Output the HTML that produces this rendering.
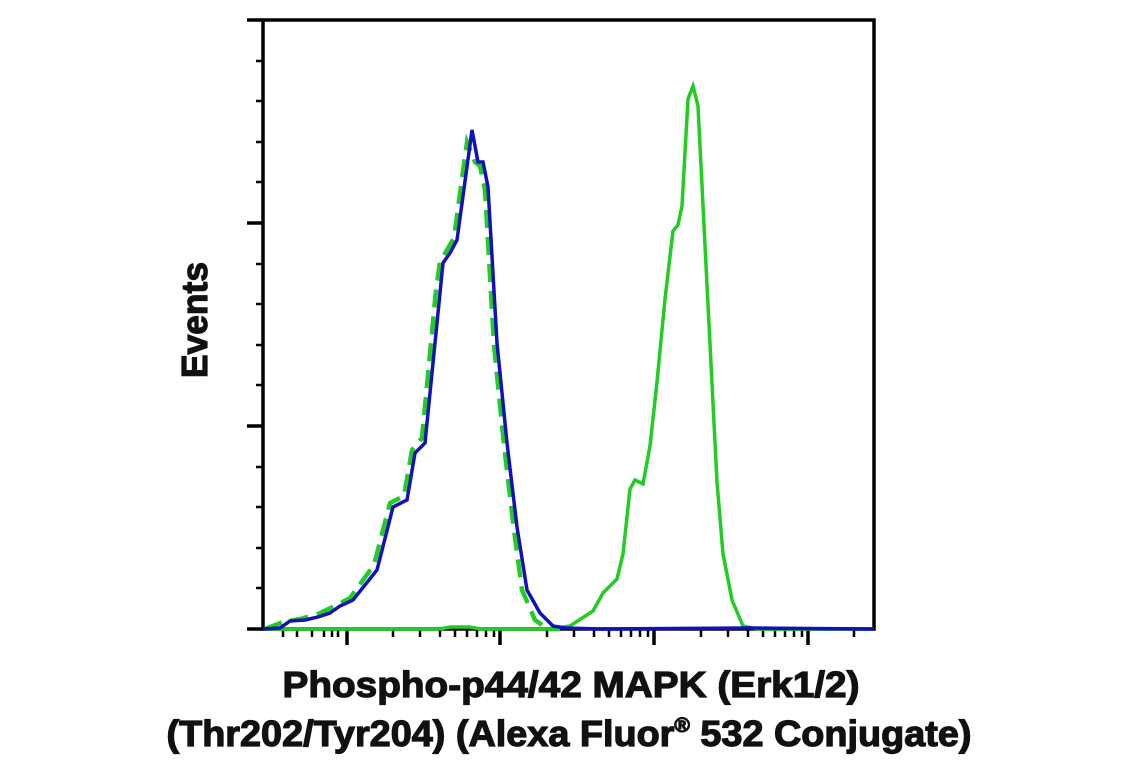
<!DOCTYPE html>
<html><head><meta charset="utf-8"><style>
html,body{margin:0;padding:0;background:#fff;}
svg{display:block;}
text{font-family:"Liberation Sans Narrow","Liberation Sans",sans-serif;font-weight:bold;fill:#111;stroke:#111;stroke-width:1.2;}
</style></head><body>
<svg width="1141" height="768" viewBox="0 0 1141 768" xmlns="http://www.w3.org/2000/svg">
<g stroke="#000" fill="none">
<path d="M263,20 V629 H874 V20 Z" stroke-width="3.5"/>
<g stroke-width="3.5">
<line x1="247" y1="20" x2="263" y2="20"/><line x1="247" y1="223" x2="263" y2="223"/>
<line x1="247" y1="426" x2="263" y2="426"/><line x1="247" y1="629" x2="263" y2="629"/>
</g>
<g stroke-width="2.5">
<line x1="256" y1="61" x2="263" y2="61"/><line x1="256" y1="101" x2="263" y2="101"/><line x1="256" y1="142" x2="263" y2="142"/><line x1="256" y1="182" x2="263" y2="182"/>
<line x1="256" y1="264" x2="263" y2="264"/><line x1="256" y1="304" x2="263" y2="304"/><line x1="256" y1="345" x2="263" y2="345"/><line x1="256" y1="385" x2="263" y2="385"/>
<line x1="256" y1="467" x2="263" y2="467"/><line x1="256" y1="507" x2="263" y2="507"/><line x1="256" y1="548" x2="263" y2="548"/><line x1="256" y1="588" x2="263" y2="588"/>
</g>
<g stroke-width="3.5">
<line x1="347" y1="629" x2="347" y2="645"/><line x1="500" y1="629" x2="500" y2="645"/>
<line x1="654" y1="629" x2="654" y2="645"/><line x1="808" y1="629" x2="808" y2="645"/>
</g>
<g stroke-width="2.5">
<path d="M283,629v8M297,629v8M312,629v8M324,629v8M332,629v8M338,629v8"/>
<path d="M393,629v8M420,629v8M440,629v8M455,629v8M467,629v8M477,629v8M486,629v8M494,629v8"/>
<path d="M547,629v8M574,629v8M594,629v8M609,629v8M621,629v8M631,629v8M640,629v8M648,629v8"/>
<path d="M701,629v8M728,629v8M748,629v8M763,629v8M775,629v8M785,629v8M794,629v8M802,629v8"/>
<path d="M854,629v8"/>
</g>
</g>
<!-- green solid -->
<polyline fill="none" stroke="#22cc22" stroke-width="3.5" points="263,629 440,629 450,627 470,627 480,629 550,629 570,626 593,611 603,593 617,579 623,554 630,489 635,480 643,484 650,446 657,382 665,299 673,231 678,225 682,206 688,99 693,86 698,106 707,285 717,482 723,554 732,600 743,626 757,629 874,629"/>
<!-- green dashed -->
<polyline fill="none" stroke="#22cc22" stroke-width="4.5" stroke-dasharray="18,9" points="265,629 283,622 300,619 318,614 337,605 350,598 374,565 390,503 404,496 412,450 422,438 436,290 440,262 447,250 454,238 467,142 475,162 480,166 485,190 494,345 504,445 514,530 522,590 535,620 548,629 560,629"/>
<!-- blue -->
<polyline fill="none" stroke="#1111bb" stroke-width="3.5" points="263,629 280,628 290,621 305,620 318,617 330,613 340,606 353,600 377,570 393,507 407,500 415,453 425,443 440,293 443,263 450,253 457,240 472,130 478,162 483,162 488,187 497,343 507,443 517,527 527,590 540,613 553,626 565,628 600,629 750,628 874,629"/>
<text transform="translate(207,320) rotate(-90)" text-anchor="middle" font-size="36" textLength="116" lengthAdjust="spacingAndGlyphs">Events</text>
<text x="571" y="697" text-anchor="middle" font-size="36" textLength="577" lengthAdjust="spacingAndGlyphs">Phospho-p44/42 MAPK (Erk1/2)</text>
<text x="569" y="746" text-anchor="middle" font-size="36" textLength="805" lengthAdjust="spacingAndGlyphs">(Thr202/Tyr204) (Alexa Fluor<tspan font-size="20" dy="-14">®</tspan><tspan dy="14"> 532 Conjugate)</tspan></text>
</svg>
</body></html>
